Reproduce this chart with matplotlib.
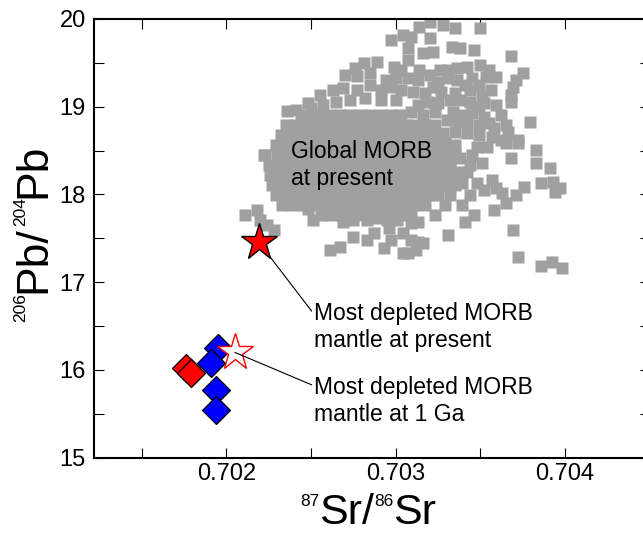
import matplotlib
matplotlib.use('Agg')
import matplotlib.pyplot as plt
from matplotlib.ticker import MultipleLocator, FormatStrFormatter

plt.rcParams['font.family'] = ['Liberation Sans', 'DejaVu Sans']

# Global MORB, scattered points (87Sr/86Sr, 206Pb/204Pb)
morb_pairs = [
    (0.70320, 19.97), (0.70314, 19.91), (0.70328, 19.93), (0.70335, 19.90), (0.70350, 19.90),
    (0.70304, 19.82), (0.70297, 19.76), (0.70309, 19.79), (0.70320, 19.78), (0.70307, 19.67),
    (0.70333, 19.68), (0.70338, 19.67), (0.70346, 19.65), (0.70316, 19.61), (0.70322, 19.62),
    (0.70368, 19.58), (0.70307, 19.53), (0.70299, 19.45), (0.70281, 19.50), (0.70289, 19.51),
    (0.70276, 19.44), (0.70277, 19.35), (0.70285, 19.38), (0.70331, 19.42), (0.70336, 19.44),
    (0.70342, 19.45), (0.70350, 19.48), (0.70355, 19.42), (0.70359, 19.34), (0.70353, 19.34),
    (0.70345, 19.33), (0.70336, 19.30), (0.70331, 19.33), (0.70325, 19.28), (0.70322, 19.22),
    (0.70313, 19.30), (0.70307, 19.33), (0.70310, 19.17), (0.70317, 19.16), (0.70327, 19.17),
    (0.70335, 19.16), (0.70344, 19.19), (0.70351, 19.13), (0.70375, 19.38), (0.70371, 19.30),
    (0.70369, 19.22), (0.70368, 19.13), (0.70368, 19.05), (0.70263, 19.19), (0.70269, 19.21),
    (0.70277, 19.19), (0.70285, 19.25), (0.70291, 19.19), (0.70297, 19.22), (0.70303, 19.19),
    (0.70248, 19.04), (0.70257, 19.02), (0.70265, 19.05), (0.70236, 18.95), (0.70273, 19.08),
    (0.70282, 19.10), (0.70291, 19.08), (0.70300, 19.08), (0.70352, 19.04), (0.70349, 19.00),
    (0.70325, 19.04), (0.70319, 19.05), (0.70313, 19.02), (0.70309, 18.94), (0.70316, 18.91),
    (0.70323, 18.94), (0.70334, 18.94), (0.70339, 18.91), (0.70345, 18.93), (0.70352, 18.88),
    (0.70330, 18.85), (0.70336, 18.83), (0.70342, 18.83), (0.70349, 18.79), (0.70355, 18.81),
    (0.70358, 18.76), (0.70365, 18.79), (0.70366, 18.71), (0.70372, 18.62), (0.70379, 18.83),
    (0.70328, 18.70), (0.70335, 18.71), (0.70342, 18.70), (0.70349, 18.68), (0.70357, 18.65),
    (0.70329, 18.59), (0.70338, 18.42), (0.70345, 18.45), (0.70351, 18.36), (0.70348, 18.54),
    (0.70354, 18.54), (0.70365, 18.59), (0.70372, 18.59), (0.70368, 18.42), (0.70383, 18.51),
    (0.70383, 18.36), (0.70391, 18.30), (0.70329, 18.22), (0.70336, 18.26), (0.70342, 18.26),
    (0.70339, 18.13), (0.70348, 18.13), (0.70357, 18.16), (0.70352, 18.05), (0.70359, 18.07),
    (0.70363, 18.02), (0.70365, 17.90), (0.70371, 17.99), (0.70376, 18.08), (0.70386, 18.13),
    (0.70393, 18.14), (0.70397, 18.07), (0.70394, 18.03), (0.70339, 17.88), (0.70346, 17.77),
    (0.70341, 17.69), (0.70358, 17.82), (0.70323, 17.77), (0.70313, 17.69), (0.70309, 17.67),
    (0.70331, 17.54), (0.70369, 17.59), (0.70372, 17.29), (0.70386, 17.19), (0.70392, 17.23),
    (0.70398, 17.16), (0.70313, 17.46), (0.70309, 17.48), (0.70312, 17.37), (0.70307, 17.33),
    (0.70211, 17.77), (0.70218, 17.82), (0.70220, 17.71), (0.70224, 17.65), (0.70228, 17.59),
    (0.70248, 17.84), (0.70251, 17.71), (0.70269, 17.69), (0.70275, 17.71), (0.70283, 17.71),
    (0.70289, 17.73), (0.70295, 17.71), (0.70301, 17.71), (0.70261, 17.37), (0.70267, 17.40),
    (0.70275, 17.51), (0.70283, 17.48), (0.70287, 17.56), (0.70296, 17.62), (0.70297, 17.48),
    (0.70304, 17.56), (0.70304, 17.33), (0.70293, 17.39), (0.70316, 17.45), (0.70222, 18.45),
    (0.70303, 19.42), (0.70300, 19.33), (0.70294, 19.30), (0.70314, 19.42), (0.70320, 19.36),
    (0.70326, 19.42), (0.70341, 19.25), (0.70349, 19.25), (0.70356, 19.19), (0.70332, 19.08),
    (0.70338, 19.08), (0.70344, 19.05), (0.70359, 19.02), (0.70362, 18.91), (0.70362, 18.62),
    (0.70255, 19.13), (0.70250, 18.99), (0.70241, 18.96), (0.70335, 18.56), (0.70335, 18.45),
    (0.70332, 18.34), (0.70335, 18.11), (0.70332, 17.99), (0.70329, 17.88), (0.70344, 18.34),
    (0.70344, 17.99), (0.70270, 19.36),
]

# dense core of the MORB field, one row per Pb value
morb_core = [
    (18.91, [0.70244, 0.70250, 0.70255, 0.70261, 0.70267, 0.70273, 0.70279, 0.70285, 0.70291,
             0.70297, 0.70303]),
    (18.79, [0.70235, 0.70241, 0.70247, 0.70253, 0.70258, 0.70264, 0.70270, 0.70276, 0.70282,
             0.70288, 0.70294, 0.70300, 0.70306, 0.70311, 0.70317, 0.70323]),
    (18.68, [0.70232, 0.70238, 0.70244, 0.70250, 0.70255, 0.70261, 0.70267, 0.70273, 0.70279,
             0.70285, 0.70291, 0.70297, 0.70303, 0.70309, 0.70314, 0.70320, 0.70326]),
    (18.56, [0.70229, 0.70235, 0.70241, 0.70247, 0.70253, 0.70258, 0.70264, 0.70270, 0.70276,
             0.70282, 0.70288, 0.70294, 0.70300, 0.70306, 0.70311, 0.70317, 0.70323, 0.70329]),
    (18.45, [0.70223, 0.70230, 0.70236, 0.70242, 0.70248, 0.70254, 0.70260, 0.70266, 0.70272,
             0.70278, 0.70284, 0.70290, 0.70296, 0.70302, 0.70308, 0.70314, 0.70320, 0.70326,
             0.70331]),
    (18.34, [0.70225, 0.70231, 0.70237, 0.70243, 0.70249, 0.70255, 0.70261, 0.70267, 0.70273,
             0.70279, 0.70285, 0.70291, 0.70297, 0.70303, 0.70309, 0.70315, 0.70321, 0.70327,
             0.70332]),
    (18.22, [0.70226, 0.70232, 0.70238, 0.70244, 0.70250, 0.70256, 0.70262, 0.70268, 0.70274,
             0.70280, 0.70286, 0.70292, 0.70298, 0.70304, 0.70310, 0.70316, 0.70322, 0.70328,
             0.70333]),
    (18.11, [0.70227, 0.70233, 0.70239, 0.70245, 0.70251, 0.70257, 0.70263, 0.70269, 0.70275,
             0.70281, 0.70287, 0.70293, 0.70299, 0.70305, 0.70311, 0.70317, 0.70323, 0.70329]),
    (17.99, [0.70229, 0.70235, 0.70241, 0.70247, 0.70253, 0.70259, 0.70265, 0.70271, 0.70277,
             0.70283, 0.70289, 0.70295, 0.70301, 0.70307, 0.70313, 0.70319, 0.70325]),
    (17.88, [0.70233, 0.70239, 0.70245, 0.70251, 0.70257, 0.70263, 0.70269, 0.70275, 0.70281,
             0.70287, 0.70293, 0.70299, 0.70305, 0.70311, 0.70317]),
    (17.77, [0.70256, 0.70262, 0.70268, 0.70274, 0.70280, 0.70286, 0.70292, 0.70298, 0.70304,
             0.70309]),
]

# depleted mantle samples
blue_sr = [0.70195, 0.70191, 0.70194, 0.70194]
blue_pb = [16.25, 16.08, 15.77, 15.54]
red_sr = [0.70176, 0.70179]
red_pb = [16.02, 15.97]
dmm_now = (0.70219, 17.46)
dmm_1ga = (0.70205, 16.20)

morb_sr = [p[0] for p in morb_pairs]
morb_pb = [p[1] for p in morb_pairs]
for pb, row in morb_core:
    morb_sr += row
    morb_pb += [pb] * len(row)

W, H = 643, 533
fig = plt.figure(figsize=(W / 100, H / 100), dpi=100)
ax = fig.add_axes([94.3 / W, (H - 457.7) / H, (649.8 - 94.3) / W, (457.7 - 19) / H])

ax.plot(morb_sr, morb_pb, 's', color='#a0a0a0', ms=8, mec='none', zorder=2)
ax.plot(blue_sr, blue_pb, 'D', color='#0000ff', ms=14, mec='black', mew=0.9, ls='none', zorder=2.5)
ax.plot(red_sr, red_pb, 'D', color='#ff0000', ms=14, mec='black', mew=0.9, ls='none', zorder=2.5)
ax.plot(*dmm_now, '*', color='#ff0000', ms=28, mec='black', mew=1, zorder=4)
ax.plot(*dmm_1ga, '*', color='white', ms=28, mec='#ff0000', mew=1, zorder=3)

ax.text(0.70238, 18.62, 'Global MORB\nat present', fontsize=16.5, ha='left', va='top', zorder=5)
ax.annotate('Most depleted MORB\nmantle at present', xy=dmm_now, xytext=(0.70252, 16.77),
            fontsize=16.5, ha='left', va='top', zorder=3,
            arrowprops=dict(arrowstyle='-', color='black', lw=0.8, shrinkA=0, shrinkB=0, relpos=(0, 0.75)))
ax.annotate('Most depleted MORB\nmantle at 1 Ga', xy=dmm_1ga, xytext=(0.70252, 15.93),
            fontsize=16.5, ha='left', va='top', zorder=4,
            arrowprops=dict(arrowstyle='-', color='black', lw=0.8, shrinkA=0, shrinkB=0, relpos=(0, 0.8)))

ax.set_xlim(0.70122, 0.7045)
ax.set_ylim(15, 20)
ax.xaxis.set_major_locator(MultipleLocator(0.001))
ax.xaxis.set_minor_locator(MultipleLocator(0.0005))
ax.xaxis.set_major_formatter(FormatStrFormatter('%.3f'))
ax.yaxis.set_major_locator(MultipleLocator(1))
ax.yaxis.set_minor_locator(MultipleLocator(0.5))
ax.tick_params(which='both', direction='in', length=7.2, width=0.8, top=True, right=True)
ax.tick_params(axis='x', labelsize=17, pad=4)
ax.tick_params(axis='y', labelsize=17, pad=6)
for s in ax.spines.values():
    s.set_linewidth(1.5)

# axis titles with small raised mass numbers
r = fig.canvas.get_renderer()


def iso_label(parts, x, y, vertical=False):
    for s, size in parts:
        lift = 0.716 * (32 - size) * 100 / 72
        if vertical:
            t = fig.text((x - lift) / W, y / H, s, fontsize=size, rotation=90,
                         rotation_mode='anchor', ha='left', va='baseline')
            y += t.get_window_extent(r).height
        else:
            t = fig.text(x / W, (y + lift) / H, s, fontsize=size, ha='left', va='baseline')
            x += t.get_window_extent(r).width


iso_label([('87', 12.5), ('Sr/', 31), ('86', 12.5), ('Sr', 31)], 300, 8)
iso_label([('206', 12.5), ('Pb/', 32), ('204', 12.5), ('Pb', 32)], 45, 211, vertical=True)

fig.savefig('out.png', dpi=100)
